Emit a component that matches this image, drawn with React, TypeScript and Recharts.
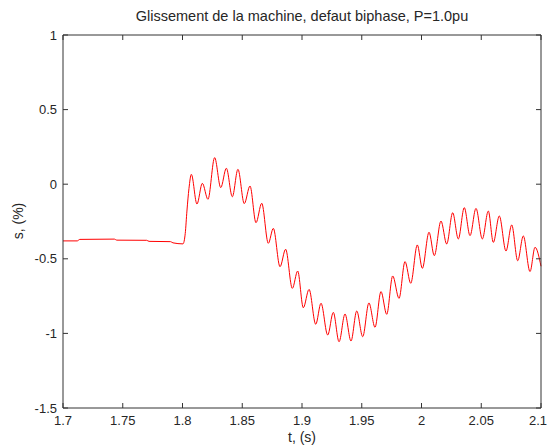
import { LineChart, Line, XAxis, YAxis } from "recharts";

// temps (s) et glissement (%) (extrema de l'oscillation)
const timeS = [
  1.7, 1.712, 1.714, 1.743, 1.745, 1.77, 1.772, 1.79, 1.792, 1.8004,
  1.8023, 1.8037, 1.8054, 1.8074, 1.8121, 1.8166, 1.8213, 1.8269, 1.832, 1.8367,
  1.8417, 1.8464, 1.8517, 1.8565, 1.8615, 1.8663, 1.8718, 1.876, 1.8816, 1.8863,
  1.8919, 1.8964, 1.9011, 1.9059, 1.9115, 1.9159, 1.9215, 1.9262, 1.931, 1.936,
  1.941, 1.9458, 1.9508, 1.956, 1.9611, 1.9661, 1.9709, 1.9759, 1.9812, 1.9862,
  1.991, 1.9965, 2.0007, 2.0063, 2.0107, 2.0163, 2.0211, 2.0261, 2.0308, 2.0358,
  2.0406, 2.0456, 2.0509, 2.0559, 2.0601, 2.0651, 2.0707, 2.0755, 2.0805, 2.0852,
  2.0908, 2.095, 2.1,
];

const slipPct = [
  -0.38, -0.38, -0.37, -0.368, -0.375, -0.376, -0.383, -0.385, -0.393, -0.4,
  -0.33, -0.18, -0.03, 0.066, -0.133, 0.006, -0.101, 0.178, -0.023, 0.107,
  -0.084, 0.1, -0.13, -0.012, -0.258, -0.128, -0.396, -0.296, -0.553, -0.436,
  -0.698, -0.582, -0.828, -0.705, -0.939, -0.798, -1.011, -0.859, -1.056, -0.87,
  -1.051, -0.85, -1.022, -0.796, -0.959, -0.72, -0.872, -0.615, -0.765, -0.519,
  -0.664, -0.407, -0.564, -0.322, -0.479, -0.247, -0.401, -0.191, -0.367, -0.157,
  -0.345, -0.162, -0.367, -0.18, -0.39, -0.213, -0.448, -0.273, -0.513, -0.347,
  -0.586, -0.423, -0.55,
];

const xTicks = [1.7, 1.75, 1.8, 1.85, 1.9, 1.95, 2, 2.05, 2.1];
const yTicks = [-1.5, -1, -0.5, 0, 0.5, 1];

const data = timeS.map((t, i) => ({ t, s: slipPct[i] }));

const FONT = '"Liberation Sans", Arial, Helvetica, sans-serif';
const TEXT = "#262626";
const AXIS = "#333";

if (typeof document !== "undefined") document.body.style.margin = "0";

const BottomTick = (props: any) => {
  const { x, y, payload } = props;
  const axisY = y - 8;
  const last = payload.value === xTicks[xTicks.length - 1];
  return (
    <g>
      <line x1={x} x2={x} y1={axisY} y2={axisY - 5} stroke={AXIS} />
      <text
        x={last ? x + 6 : x}
        y={y}
        dy="0.71em"
        textAnchor={last ? "end" : "middle"}
        fontSize={13}
        fill={TEXT}
        fontFamily={FONT}
      >
        {payload.value}
      </text>
    </g>
  );
};

const LeftTick = (props: any) => {
  const { x, y, payload } = props;
  const axisX = x + 6;
  return (
    <g>
      <line x1={axisX} x2={axisX + 5} y1={y} y2={y} stroke={AXIS} />
      <text x={x} y={y} dy="0.355em" textAnchor="end" fontSize={13} fill={TEXT} fontFamily={FONT}>
        {payload.value}
      </text>
    </g>
  );
};

const TopTick = (props: any) => {
  const { x, y } = props;
  return <line x1={x} x2={x} y1={y} y2={y + 5} stroke={AXIS} />;
};

const RightTick = (props: any) => {
  const { x, y } = props;
  return <line x1={x} x2={x - 5} y1={y} y2={y} stroke={AXIS} />;
};

export default function App() {
  return (
    <div style={{ position: "relative", width: 547, height: 448, fontFamily: FONT, color: TEXT }}>
      <LineChart width={547} height={448} data={data} margin={{ top: 34, right: 5, bottom: 0, left: 23 }}>
        <XAxis
          dataKey="t"
          type="number"
          domain={[1.7, 2.1]}
          ticks={xTicks}
          height={40}
          tickSize={0}
          tickMargin={8}
          tick={<BottomTick />}
          stroke={AXIS}
          interval={0}
        />
        <XAxis
          xAxisId="top"
          dataKey="t"
          orientation="top"
          type="number"
          domain={[1.7, 2.1]}
          ticks={xTicks}
          height={1}
          tickSize={0}
          tickMargin={0}
          tick={<TopTick />}
          stroke={AXIS}
          interval={0}
        />
        <YAxis
          type="number"
          domain={[-1.5, 1]}
          ticks={yTicks}
          width={40}
          tickSize={0}
          tickMargin={6}
          tick={<LeftTick />}
          stroke={AXIS}
          interval={0}
        />
        <YAxis
          yAxisId="right"
          orientation="right"
          type="number"
          domain={[-1.5, 1]}
          ticks={yTicks}
          width={1}
          tickSize={0}
          tickMargin={0}
          tick={<RightTick />}
          stroke={AXIS}
          interval={0}
        />
        <Line
          xAxisId="top"
          yAxisId="right"
          type="monotone"
          dataKey="s"
          stroke="#ff0000"
          strokeOpacity={0}
          dot={false}
          activeDot={false}
          isAnimationActive={false}
        />
        <Line
          type="monotone"
          dataKey="s"
          stroke="#ff0000"
          strokeWidth={1}
          dot={false}
          isAnimationActive={false}
        />
      </LineChart>
      <div
        style={{
          position: "absolute",
          left: 52,
          width: 500,
          top: 7,
          textAlign: "center",
          fontSize: 14.5,
          lineHeight: "18px",
        }}
      >
        Glissement de la machine, defaut biphase, P=1.0pu
      </div>
      <div
        style={{
          position: "absolute",
          left: 63,
          width: 478,
          top: 429,
          textAlign: "center",
          fontSize: 14,
          lineHeight: "17px",
        }}
      >
        t, (s)
      </div>
      <div
        style={{
          position: "absolute",
          left: 18,
          top: 221,
          transform: "translate(-50%, -50%) rotate(-90deg)",
          fontSize: 14,
          lineHeight: "17px",
          whiteSpace: "nowrap",
        }}
      >
        s, (%)
      </div>
    </div>
  );
}
